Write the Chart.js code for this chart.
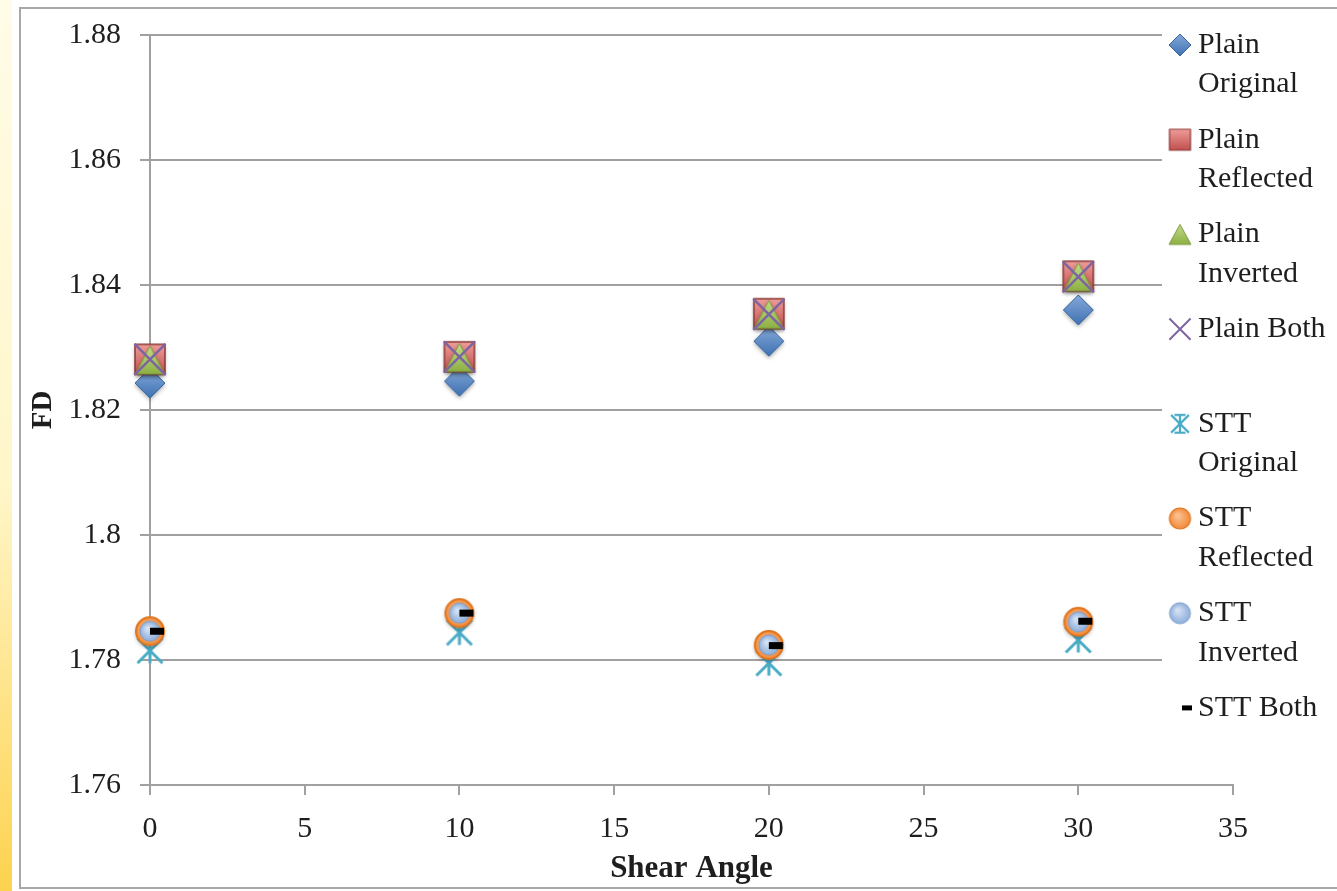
<!DOCTYPE html>
<html>
<head>
<meta charset="utf-8">
<title>FD vs Shear Angle</title>
<script src="https://cdn.jsdelivr.net/npm/chart.js@4.4.1/dist/chart.umd.min.js"></script>
<style>
  html, body { margin: 0; padding: 0; background: #fff; }
  #wrap { position: relative; width: 1337px; height: 891px; }
</style>
</head>
<body>
<div id="wrap"><canvas id="chart" width="1337" height="891"></canvas></div>
<script>
// ---- data ----
const shearAngles = [0, 10, 20, 30];

const plainOriginal  = [1.8243, 1.8246, 1.8310, 1.8360];
const plainReflected = [1.8281, 1.8285, 1.8354, 1.8414];
const plainInverted  = [1.8280, 1.8284, 1.8353, 1.8413];
const plainBoth      = [1.8281, 1.8285, 1.8353, 1.8413];

const sttOriginal  = [1.7815, 1.7844, 1.7795, 1.7832];
const sttReflected = [1.7846, 1.7875, 1.7824, 1.7861];
const sttInverted  = [1.7846, 1.7875, 1.7824, 1.7861];
const sttBoth      = [1.7846, 1.7875, 1.7823, 1.7862];

const seriesNames = [
  ["Plain", "Original"], ["Plain", "Reflected"], ["Plain", "Inverted"], ["Plain Both"],
  ["STT", "Original"], ["STT", "Reflected"], ["STT", "Inverted"], ["STT Both"],
];

const xTicks = { min: 0, max: 35, step: 5 };
const yTicks = { min: 1.76, max: 1.88, step: 0.02 };

const FONT = "'Liberation Serif', 'DejaVu Serif', serif";

// Excel-like glossy markers, drawn once to offscreen canvases
function makeMarker(w, h, shape, light, dark, border, bw, shadow) {
  const pad = 6;
  const c = document.createElement("canvas");
  c.width = w + pad * 2;
  c.height = h + pad * 2;
  const g = c.getContext("2d");
  const x0 = pad, y0 = pad, cx = pad + w / 2, cy = pad + h / 2;
  g.beginPath();
  if (shape === "diamond") {
    g.moveTo(cx, y0); g.lineTo(x0 + w, cy); g.lineTo(cx, y0 + h); g.lineTo(x0, cy); g.closePath();
  } else if (shape === "square") {
    g.rect(x0, y0, w, h);
  } else if (shape === "triangle") {
    g.moveTo(cx, y0); g.lineTo(x0 + w, y0 + h); g.lineTo(x0, y0 + h); g.closePath();
  } else {
    g.arc(cx, cy, w / 2, 0, Math.PI * 2);
  }
  let fill;
  if (shape === "circle") {
    fill = g.createRadialGradient(cx - w * 0.12, cy - h * 0.15, 1, cx, cy, w / 2);
  } else {
    fill = g.createLinearGradient(0, y0, 0, y0 + h);
  }
  fill.addColorStop(0, light);
  fill.addColorStop(1, dark);
  if (shadow) {
    g.shadowColor = "rgba(0,0,0,0.35)";
    g.shadowBlur = 4;
    g.shadowOffsetY = 2;
  }
  g.fillStyle = fill;
  g.fill();
  g.shadowColor = "transparent";
  g.strokeStyle = border;
  g.lineWidth = bw;
  g.stroke();
  return c;
}

// asterisk marker (Excel "star")
function makeStar(size, color, lw, caps) {
  const c = document.createElement("canvas");
  c.width = c.height = size;
  const g = c.getContext("2d");
  g.strokeStyle = color;
  g.lineWidth = lw;
  const a = lw / 2 + 1, b = size - lw / 2 - 1, mid = size / 2;
  g.beginPath();
  g.moveTo(mid, a); g.lineTo(mid, b);
  g.moveTo(a, a); g.lineTo(b, b);
  g.moveTo(b, a); g.lineTo(a, b);
  if (caps) {
    g.moveTo(mid - size * 0.25, a); g.lineTo(mid + size * 0.25, a);
    g.moveTo(mid - size * 0.25, b); g.lineTo(mid + size * 0.25, b);
  }
  g.stroke();
  return c;
}

const markers = {
  diamond:  [makeMarker(30, 30, "diamond", "#86A9DA", "#3F72B2", "#3A66A0", 1, true),
             makeMarker(22, 22, "diamond", "#86A9DA", "#3F72B2", "#3A66A0", 1, false)],
  square:   [makeMarker(30, 30, "square", "#EE9D9A", "#C0504D", "#8C3836", 1.5, true),
             makeMarker(21, 21, "square", "#EE9D9A", "#C0504D", "#8C3836", 1.2, false)],
  triangle: [makeMarker(29, 28, "triangle", "#C3DD8A", "#8DB043", "#7A9A3E", 1, true),
             makeMarker(22, 20, "triangle", "#C3DD8A", "#8DB043", "#7A9A3E", 1, false)],
  star:     [makeStar(30, "#4BACC6", 3, false), makeStar(22, "#4BACC6", 2.2, true)],
  orange:   [makeMarker(28, 28, "circle", "#FBC193", "#F38B3A", "#E0761F", 2, true),
             makeMarker(21, 21, "circle", "#FBC193", "#F38B3A", "#E0761F", 1.2, false)],
  blue:     [makeMarker(20, 20, "circle", "#D4E2F4", "#8EAEDB", "#7E9FCB", 1, false),
             makeMarker(21, 21, "circle", "#D4E2F4", "#8EAEDB", "#7E9FCB", 1, false)],
};

const toPoints = (ys) => shearAngles.map((x, i) => ({ x, y: ys[i] }));

// marker per series: [chart style, legend style]
const styles = [
  { style: markers.diamond },
  { style: markers.square },
  { style: markers.triangle },
  { style: ["crossRot", "crossRot"], radius: 22, color: "#7F64A2", bw: 2.5 },
  { style: markers.star },
  { style: markers.orange },
  { style: markers.blue },
  { style: ["dash", "dash"], radius: 14, color: "#000000", bw: 7 },
];

const allSeries = [plainOriginal, plainReflected, plainInverted, plainBoth,
                   sttOriginal, sttReflected, sttInverted, sttBoth];

const datasets = allSeries.map((ys, i) => ({
  label: seriesNames[i].join(" "),
  data: toPoints(ys),
  showLine: false,
  clip: false,
  order: 20 - i,            // first series drawn underneath, like Excel
  pointStyle: styles[i].style[0],
  pointRadius: styles[i].radius || 14,
  pointHoverRadius: styles[i].radius || 14,
  backgroundColor: styles[i].color || "#000",
  borderColor: styles[i].color || "#000",
  pointBorderWidth: styles[i].bw || 1,
}));

// background: yellow strip on the left + grey frame
const framePlugin = {
  id: "frame",
  beforeDraw(chart) {
    const ctx = chart.ctx;
    ctx.save();
    ctx.fillStyle = "#ffffff";
    ctx.fillRect(0, 0, chart.width, chart.height);
    const grad = ctx.createLinearGradient(0, 0, 0, chart.height);
    grad.addColorStop(0, "#FFFCE8");
    grad.addColorStop(0.55, "#FFF6C8");
    grad.addColorStop(1, "#FDD24E");
    ctx.fillStyle = grad;
    ctx.fillRect(0, 0, 12, chart.height);
    ctx.strokeStyle = "#A8A8A8";
    ctx.lineWidth = 2;
    ctx.strokeRect(20, 8, chart.width + 10, 880);
    ctx.restore();
  },
};

// legend box overlapping the plot on the right, two-line labels
const legendPlugin = {
  id: "sideLegend",
  afterDraw(chart) {
    const ctx = chart.ctx;
    ctx.save();
    ctx.fillStyle = "#ffffff";
    ctx.fillRect(1162, 22, chart.width - 1163, 716);
    ctx.font = "30px " + FONT;
    ctx.textBaseline = "middle";
    seriesNames.forEach((lines, i) => {
      const y = 45 + i * 94.7;
      const s = styles[i];
      const isDash = s.style[1] === "dash";
      ctx.save();
      ctx.fillStyle = s.color || "#000";
      ctx.strokeStyle = s.color || "#000";
      ctx.lineWidth = isDash ? 5 : 2;
      Chart.helpers.drawPoint(ctx, {
        pointStyle: s.style[1],
        radius: isDash ? 10 : 15,
        rotation: 0,
        borderWidth: ctx.lineWidth,
      }, isDash ? 1182 : 1180, y);
      ctx.restore();
      ctx.fillStyle = "#1E1E1E";
      lines.forEach((t, k) => ctx.fillText(t, 1198, y + k * 39.5));
    });
    ctx.restore();
  },
};

new Chart(document.getElementById("chart"), {
  type: "scatter",
  data: { datasets },
  plugins: [framePlugin, legendPlugin],
  options: {
    responsive: false,
    animation: false,
    events: [],
    layout: { padding: { left: 0, top: 35, right: 104, bottom: 0 } },
    plugins: { legend: { display: false }, tooltip: { enabled: false } },
    scales: {
      x: {
        type: "linear",
        min: xTicks.min,
        max: xTicks.max,
        afterFit: (s) => { s.height = 106; },
        ticks: { stepSize: xTicks.step, color: "#1E1E1E", padding: 16, font: { family: FONT, size: 30 } },
        grid: { drawOnChartArea: false, drawTicks: true, tickLength: 10, color: "#A0A0A0", lineWidth: 2 },
        border: { color: "#A0A0A0", width: 2 },
        title: {
          display: true, text: "Shear Angle", color: "#1E1E1E",
          font: { family: FONT, size: 31, weight: "bold" }, padding: { top: 0, bottom: 3 },
        },
      },
      y: {
        type: "linear",
        min: yTicks.min,
        max: yTicks.max,
        afterFit: (s) => { s.width = 150; s.paddingTop = 0; },
        ticks: {
          stepSize: yTicks.step, color: "#1E1E1E", padding: 19,
          font: { family: FONT, size: 30 },
          callback: (v) => String(Math.round(v * 100) / 100),
        },
        grid: { drawTicks: true, tickLength: 10, color: "#A0A0A0", lineWidth: 2 },
        border: { color: "#A0A0A0", width: 2 },
        title: {
          display: true, text: "FD", color: "#1E1E1E",
          font: { family: FONT, size: 29, weight: "bold" }, padding: { top: 26, bottom: 0 },
        },
      },
    },
  },
});
</script>
</body>
</html>
